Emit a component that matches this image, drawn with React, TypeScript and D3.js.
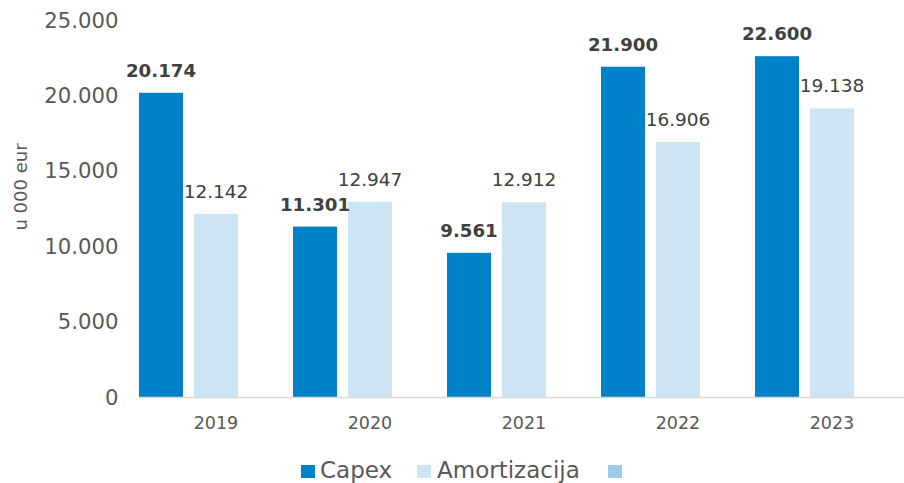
import React from "react";
import * as d3 from "d3";

const categories = ["2019", "2020", "2021", "2022", "2023"];
const capex = [20174, 11301, 9561, 21900, 22600];
const amortizacija = [12142, 12947, 12912, 16906, 19138];
const yTicks = [0, 5000, 10000, 15000, 20000, 25000];
const seriesNames = ["Capex", "Amortizacija", ""];
const seriesColors = ["#0081C9", "#CDE4F3", "#9DCBEA"];

const W = 904;
const H = 483;
const FONT = "'DejaVu Sans', Verdana, sans-serif";

const fmt = (v: number) => {
  const s = String(Math.round(v));
  return s.replace(/\B(?=(\d{3})+(?!\d))/g, ".");
};

export default function App() {
  const x0 = d3.scaleBand<string>().domain(categories).range([139, 139 + 154 * 5]).paddingInner(0).paddingOuter(0);
  const barW = 44;
  const slot = (i: number) => i * 55;
  const y = d3.scaleLinear().domain([0, 25000]).range([397, 20]);

  return (
    <svg width={W} height={H} style={{ position: "absolute", left: 0, top: 0, fontFamily: FONT }}>
      <rect x={0} y={0} width={W} height={H} fill="#ffffff" />
      {yTicks.map((t) => (
        <text key={t} x={118.5} y={y(t)} dy="0.36em" textAnchor="end" fontSize={21.2} fill="#595959">
          {fmt(t)}
        </text>
      ))}
      <text transform={`translate(27,${187}) rotate(-90)`} textAnchor="middle" fontSize={18} fill="#595959">
        u 000 eur
      </text>
      {categories.map((c, i) => {
        const bx = x0(c)!;
        return (
          <g key={c}>
            <rect x={bx + slot(0)} y={y(capex[i])} width={barW} height={y(0) - y(capex[i])} fill={seriesColors[0]} />
            <rect x={bx + slot(1)} y={y(amortizacija[i])} width={barW} height={y(0) - y(amortizacija[i])} fill={seriesColors[1]} />
            <text x={bx + slot(0) + barW / 2} y={y(capex[i]) - 16} textAnchor="middle" fontSize={18.2} fontWeight="bold" fill="#404040">
              {fmt(capex[i])}
            </text>
            <text x={bx + slot(1) + barW / 2} y={y(amortizacija[i]) - 16} textAnchor="middle" fontSize={18.5} fill="#404040">
              {fmt(amortizacija[i])}
            </text>
            <text x={bx + x0.bandwidth() / 2} y={429} textAnchor="middle" fontSize={17.5} fill="#595959">
              {c}
            </text>
          </g>
        );
      })}
      <line x1={139} x2={W} y1={397.5} y2={397.5} stroke="#D9D9D9" strokeWidth={1.5} />
      <g>
        <rect x={301} y={465} width={14} height={13} fill={seriesColors[0]} />
        <text x={320} y={478} fontSize={23} fill="#595959">{seriesNames[0]}</text>
        <rect x={417} y={465} width={14} height={13} fill={seriesColors[1]} />
        <text x={437} y={478} fontSize={23} fill="#595959">{seriesNames[1]}</text>
        <rect x={608} y={465} width={14} height={13} fill={seriesColors[2]} />
      </g>
    </svg>
  );
}
